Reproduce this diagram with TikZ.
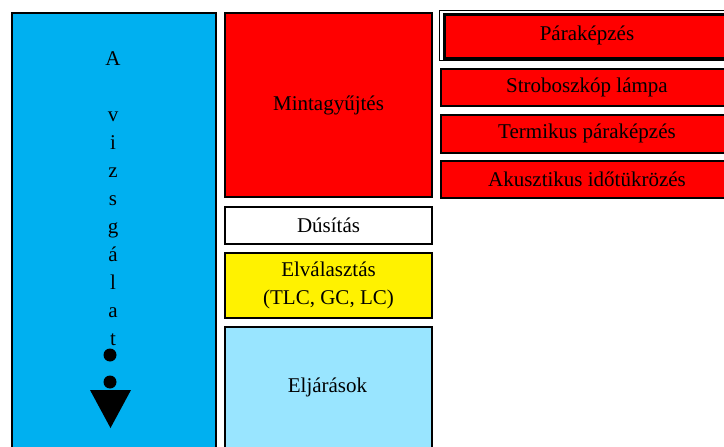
\documentclass[tikz,border=0pt]{standalone}
\usepackage{fontspec}
\setmainfont{Liberation Serif}
\usepackage{xcolor}
\usetikzlibrary{positioning}

\definecolor{oszlopkek}{HTML}{00B0F0}
\definecolor{vilagoskek}{HTML}{99E5FF}

\tikzset{
    doboz/.style={draw, line width=2pt, rectangle, anchor=north west, inner sep=0pt, align=center},
    betu/.style={font=\fontsize{21}{28}\selectfont}
}

\begin{document}
\begin{tikzpicture}[x=1pt, y=-1pt, betu]
    \useasboundingbox (0,0) rectangle (724,447);
    \clip (0,0) rectangle (724,447);

    % bal oszlop
    \node[doboz, fill=oszlopkek, minimum width=204pt, minimum height=460pt] (oszlop) at (11,12) {};
    \node[align=center] (felirat) at (113,199) {A\\ \\v\\i\\z\\s\\g\\á\\l\\a\\t};

    % nyíl jel
    \fill (110,355) circle (6.5);
    \fill (110,382) circle (6.5);
    \fill (90,390) -- (131,390) -- (110.5,428) -- cycle;

    % középső oszlop
    \node[doboz, fill=red, minimum width=207pt, minimum height=184pt] (minta) at (224,12) {Mintagyűjtés};
    \node[doboz, fill=white, minimum width=207pt, minimum height=37pt] (dusitas) at (224,206) {Dúsítás};
    \node[doboz, fill=yellow, minimum width=207pt, minimum height=65pt] (elvalasztas) at (224,252) {Elválasztás\\(TLC, GC, LC)};
    \node[doboz, fill=vilagoskek, minimum width=207pt, minimum height=140pt] (eljarasok) at (224,326) {};
    \node (eljtext) at (327.5,387) {Eljárások};

    % jobb oszlop
    \draw[line width=1pt] (439,10) rectangle (740,60);
    \node[doboz, fill=red, line width=2.5pt, minimum width=290pt, minimum height=44pt] (para) at (443,13) {};
    \node (paratext) at (587,35) {Páraképzés};
    \node[doboz, fill=red, minimum width=300pt, minimum height=37pt] (strobo) at (440,68) {};
    \node (strobotext) at (587,87) {Stroboszkóp lámpa};
    \node[doboz, fill=red, minimum width=300pt, minimum height=38pt] (termikus) at (440,114) {};
    \node (termikustext) at (587,133) {Termikus páraképzés};
    \node[doboz, fill=red, minimum width=300pt, minimum height=37pt] (akusztikus) at (440,160) {};
    \node (akusztikustext) at (587,179) {Akusztikus időtükrözés};
\end{tikzpicture}
\end{document}
